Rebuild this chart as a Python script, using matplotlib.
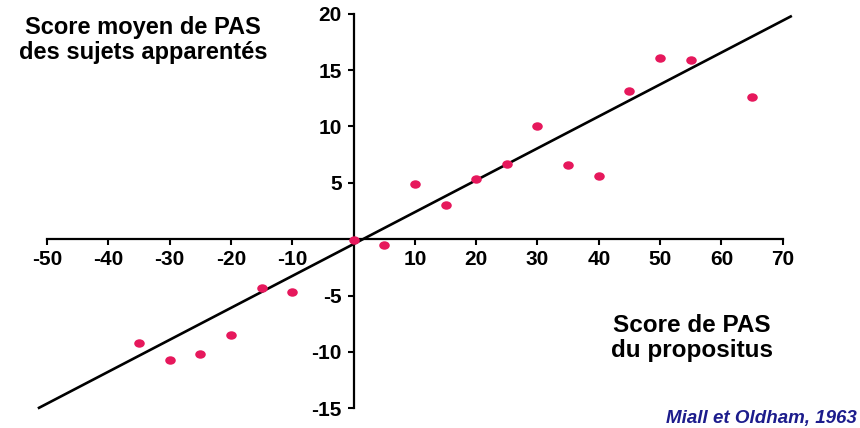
import matplotlib
matplotlib.use("Agg")
import matplotlib.pyplot as plt
from matplotlib.path import Path
from matplotlib.transforms import Affine2D
import numpy as np

# Blood pressure scores: propositus (x) vs mean of relatives (y)
propositus = [-35, -30, -25, -20, -15, -10, 0, 5, 10, 15, 20, 25, 30, 35, 40, 45, 50, 55, 65]
relatives = [-9.2, -10.7, -10.2, -8.45, -4.35, -4.7, -0.1, -0.47, 4.85, 3.0, 5.3, 6.7,
             10.05, 6.6, 5.6, 13.1, 16.05, 15.85, 12.6]

# Regression line
fit_x = [-51.3, 71.3]
fit_slope = 0.283
fit_intercept = -0.43

x_ticks = [-50, -40, -30, -20, -10, 10, 20, 30, 40, 50, 60, 70]
y_ticks = [-15, -10, -5, 5, 10, 15, 20]

plt.rcParams['font.family'] = ['Liberation Sans', 'DejaVu Sans']
plt.rcParams['axes.unicode_minus'] = False

fig = plt.figure(figsize=(8.6, 4.28), dpi=100)
ax = fig.add_axes([0.05465, 0.0458, 0.8555, 0.9224])
ax.set_xlim(-50, 70)
ax.set_ylim(-15, 20)

for side in ('top', 'right'):
    ax.spines[side].set_visible(False)
for side in ('left', 'bottom'):
    ax.spines[side].set_position(('data', 0))
    ax.spines[side].set_linewidth(1.6)
    ax.spines[side].set_color('black')

ax.set_xticks(x_ticks)
ax.set_yticks(y_ticks)
ax.tick_params(axis='x', direction='out', length=4, width=1.5, pad=4,
               labelsize=15)
ax.tick_params(axis='y', direction='out', length=4.5, width=1.5, pad=4,
               labelsize=15)
for lab in ax.get_xticklabels() + ax.get_yticklabels():
    lab.set_fontweight('bold')

fx = np.array(fit_x)
ax.plot(fx, fit_slope * fx + fit_intercept, color='black', lw=1.9,
        clip_on=False, zorder=2)

# slightly wide oval dots
circle = Path.unit_circle()
oval = Path(Affine2D().scale(1.25, 1.0).transform(circle.vertices), circle.codes)
ax.plot(propositus, relatives, linestyle='none', marker=oval, color='#e6185c',
        markersize=7.6, markeredgewidth=0, clip_on=False, zorder=3)

fig.text(143 / 860, 1 - 40 / 428, "Score moyen de PAS\ndes sujets apparentés",
         ha='center', va='center', fontsize=17, fontweight='bold',
         linespacing=1.1)
fig.text(692 / 860, 1 - 338 / 428, "Score de PAS\ndu propositus",
         ha='center', va='center', fontsize=17.5, fontweight='bold',
         linespacing=1.1)
fig.text(857 / 860, 1 - 423 / 428, "Miall et Oldham, 1963",
         ha='right', va='baseline', fontsize=13.5, fontweight='bold',
         fontstyle='italic', color='#1c1c8c')

fig.savefig("out.png", dpi=100)
